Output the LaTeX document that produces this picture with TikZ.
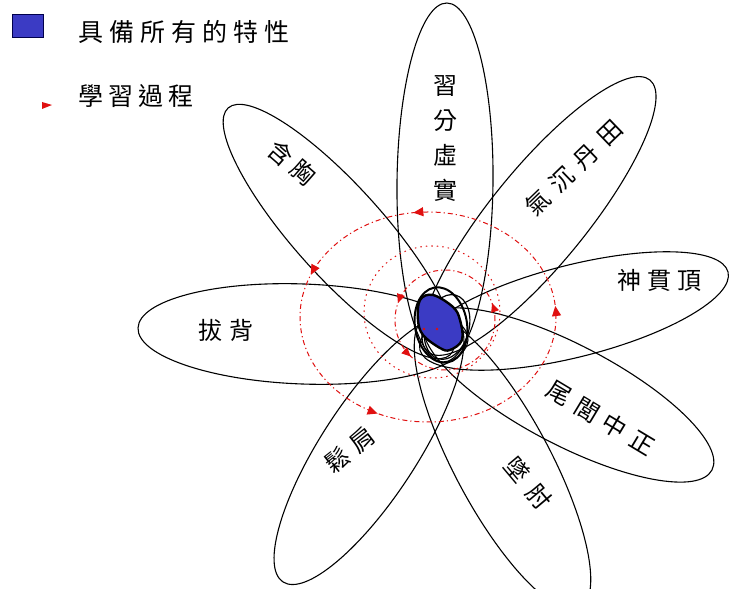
\documentclass[tikz,border=0pt]{standalone}
\usepackage{fontspec}
\newfontfamily\cjk{Noto Sans CJK TC}
\usetikzlibrary{decorations.markings,arrows.meta}
\definecolor{blobblue}{HTML}{3B3BC4}
\definecolor{loopred}{HTML}{E01010}
\newcommand{\gp}[1]{\hspace{#1pt}}
\tikzset{
  petal/.style={draw=black, line width=1.1pt},
  lbl/.style={font=\cjk\fontsize{24}{35}\selectfont, inner sep=0pt, align=center},
  leg/.style={font=\cjk\fontsize{25}{30}\selectfont, inner sep=0pt, anchor=west},
  redloop/.style={draw=loopred, line width=1pt, dash pattern=on 5pt off 3pt on 1.2pt off 3pt},
  rtip/.style={color=loopred, fill=loopred},
}
\begin{document}
\begin{tikzpicture}[x=1pt,y=1pt]
\useasboundingbox (0,0) rectangle (737,589);
\clip (0,0) rectangle (737,589);
\fill[white] (0,0) rectangle (737,589);

% legend
\draw[fill=blobblue, draw=black!70!blue, line width=1pt] (12,574) rectangle (43,551);
\node[leg] (legA) at (78,557) {具\gp6備\gp6所\gp6有\gp6的\gp6特\gp6性};
\fill[loopred] (42,487) -- (52,484) -- (42,480) -- cycle;
\node[leg] (legB) at (78,493) {學\gp5習\gp5過\gp5程};

% petals
\draw[petal, rotate around={89.4:(445,406.5)}] (445,406.5) ellipse (179.5 and 48);
\draw[petal, rotate around={50.8:(539,373)}] (539,373) ellipse (175.5 and 48);
\draw[petal, rotate around={14.2:(574,278)}] (574,278) ellipse (158.9 and 46);
\draw[petal, rotate around={-27.6:(568.5,194)}] (568.5,194) ellipse (161.9 and 50);
\draw[petal, rotate around={-61.9:(502.5,126)}] (502.5,126) ellipse (164.4 and 48);
\draw[petal, rotate around={56.9:(369,139)}] (369,139) ellipse (157.5 and 48);
\draw[petal, rotate around={-2.1:(303,255)}] (303,255) ellipse (165.1 and 50);
\draw[petal, rotate around={131.9:(339,357.5)}] (339,357.5) ellipse (166 and 45);

% red learning loops
\draw[redloop, postaction={decorate}, decoration={markings,
   mark=at position 0.015 with {\arrow[rtip]{Triangle[length=10pt,width=9pt]}},
   mark=at position 0.27 with {\arrow[rtip]{Triangle[length=10pt,width=9pt]}},
   mark=at position 0.44 with {\arrow[rtip]{Triangle[length=10pt,width=9pt]}},
   mark=at position 0.68 with {\arrow[rtip]{Triangle[length=10pt,width=9pt]}}}]
  (428,272) ellipse (128 and 105);
\draw[redloop, dash pattern=on 1.5pt off 4pt] (432,277) ellipse (68 and 66);
\draw[redloop, postaction={decorate}, decoration={markings,
   mark=at position 0.055 with {\arrow[rtip]{Triangle[length=9pt,width=8pt]}},
   mark=at position 0.445 with {\arrow[rtip]{Triangle[length=9pt,width=8pt]}},
   mark=at position 0.63 with {\arrow[rtip]{Triangle[length=9pt,width=8pt]}}}]
  (445,269) ellipse (50 and 50);

% centre
\draw[line width=2pt, rotate around={10:(441,264)}] (441,264) ellipse (26 and 38);
\draw[line width=1.2pt, rotate around={-15:(447,262)}] (447,262) ellipse (22 and 33);
\fill[blobblue] plot[smooth cycle, tension=0.6] coordinates {(420,289) (433,294) (453,282) (460,269) (462,249) (450,239) (440,241) (423,254) (418,269)};
\draw[line width=2.4pt] plot[smooth cycle, tension=0.6] coordinates {(420,289) (433,294) (453,282) (460,269) (462,249) (450,239) (440,241) (423,254) (418,269)};
\fill[loopred] (424,260) circle (1.3);
\fill[loopred] (437,260) circle (1.3);

% labels
\node[lbl] (p1) at (445,450.5) {習\\分\\虛\\實};
\node[lbl, rotate=44] (p2) at (574,421) {氣\gp{9.5}沉\gp{9.5}丹\gp{9.5}田};
\node[lbl] (p3) at (659,309) {神\gp6貫\gp6頂};
\node[lbl, rotate=-31] (p4) at (601,171) {尾\gp8閭\gp8中\gp8正};
\node[lbl, rotate=-50] (p5) at (528,106) {墜\gp{11}肘};
\node[lbl, rotate=38] (p6) at (350,139) {鬆\gp8肩};
\node[lbl] (p7) at (226,259) {拔\gp8背};
\node[lbl, rotate=-41] (p8) at (292,426) {含\gp6胸};
\end{tikzpicture}
\end{document}
